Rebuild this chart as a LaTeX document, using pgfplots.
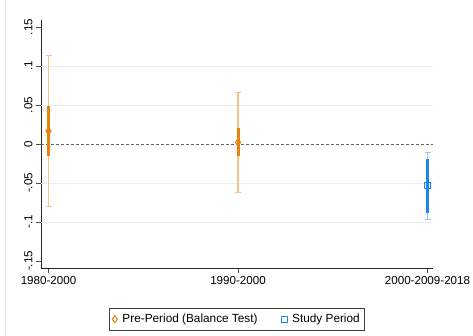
\documentclass[border=0pt]{standalone}
\usepackage{fontspec}
\setmainfont{Liberation Sans}
\usepackage{pgfplots}
\pgfplotsset{compat=1.18}

\definecolor{preorange}{HTML}{E8820C}
\definecolor{prelight}{HTML}{F7C38A}
\definecolor{studyblue}{HTML}{1A86EE}
\definecolor{studylight}{HTML}{94C8F8}
\definecolor{gridc}{HTML}{E4ECEE}

\begin{document}
\begin{tikzpicture}[x=1pt,y=1pt]
\useasboundingbox (0,0) rectangle (473,336);
\draw[black!8] (5.5,0) -- (5.5,336);
\begin{axis}[
  at={(41pt,68pt)}, anchor=south west,
  scale only axis, width=392pt, height=248pt,
  xmin=-0.03958, xmax=2.0290, ymin=-0.159, ymax=0.159,
  axis x line*=bottom, axis y line*=left,
  axis line style={-, black!85, line width=0.8pt},
  tick align=outside, major tick length=5pt,
  tick style={black!70, line width=0.8pt},
  xtick={0,1,2},
  xticklabels={1980-2000,1990-2000,2000-2009-2018},
  ytick={-0.15,-0.1,-0.05,0,0.05,0.1,0.15},
  yticklabels={-.15,-.1,-.05,0,.05,.1,.15},
  yticklabel style={rotate=90, anchor=south},
  ticklabel style={font=\fontsize{11.6}{13}\selectfont},
  extra y ticks={-0.1,-0.05,0.05,0.1},
  extra y tick labels={},
  extra y tick style={ymajorgrids=true, major tick length=0pt},
  grid style={gridc, line width=0.8pt},
  legend style={at={(0.5,-0.161)}, anchor=north, legend columns=2,
    draw=black!75, line width=0.6pt, inner xsep=3pt, inner ysep=4pt,
    font=\fontsize{11.8}{13}\selectfont,
    /tikz/every odd column/.append style={column sep=3pt},
    /tikz/every even column/.append style={column sep=22pt}},
  clip=false,
]
\draw[black!60, dash pattern=on 3pt off 2pt, line width=0.7pt]
  (axis cs:-0.03958,0) -- (axis cs:2.029,0);

% wide intervals (with caps)
\addplot[forget plot, draw=prelight, line width=1.2pt, mark=-, mark size=3pt,
  mark options={draw=prelight, line width=1.2pt}]
  coordinates {(0,-0.0800) (0,0.1130)};
\addplot[forget plot, draw=prelight, line width=1.2pt, mark=-, mark size=3pt,
  mark options={draw=prelight, line width=1.2pt}]
  coordinates {(1,-0.0620) (1,0.0660)};
\addplot[forget plot, draw=studylight, line width=1.2pt, mark=-, mark size=3pt,
  mark options={draw=studylight, line width=1.2pt}]
  coordinates {(2,-0.0965) (2,-0.0105)};

% narrow intervals
\addplot[forget plot, draw=preorange, line width=3pt, mark=none]
  coordinates {(0,-0.0160) (0,0.0490)};
\addplot[forget plot, draw=preorange, line width=3pt, mark=none]
  coordinates {(1,-0.0160) (1,0.0200)};
\addplot[forget plot, draw=studyblue, line width=3pt, mark=none]
  coordinates {(2,-0.0880) (2,-0.0190)};

% point estimates
\addplot[only marks, mark=diamond, mark size=3.5pt,
  mark options={draw=preorange, line width=1pt}]
  coordinates {(0,0.0165) (1,0.002)};
\addlegendentry{Pre-Period (Balance Test)}
\addplot[only marks, mark=square, mark size=2.8pt,
  mark options={draw=studyblue, line width=1pt}]
  coordinates {(2,-0.0535)};
\addlegendentry{Study Period}
\end{axis}
\end{tikzpicture}
\end{document}
